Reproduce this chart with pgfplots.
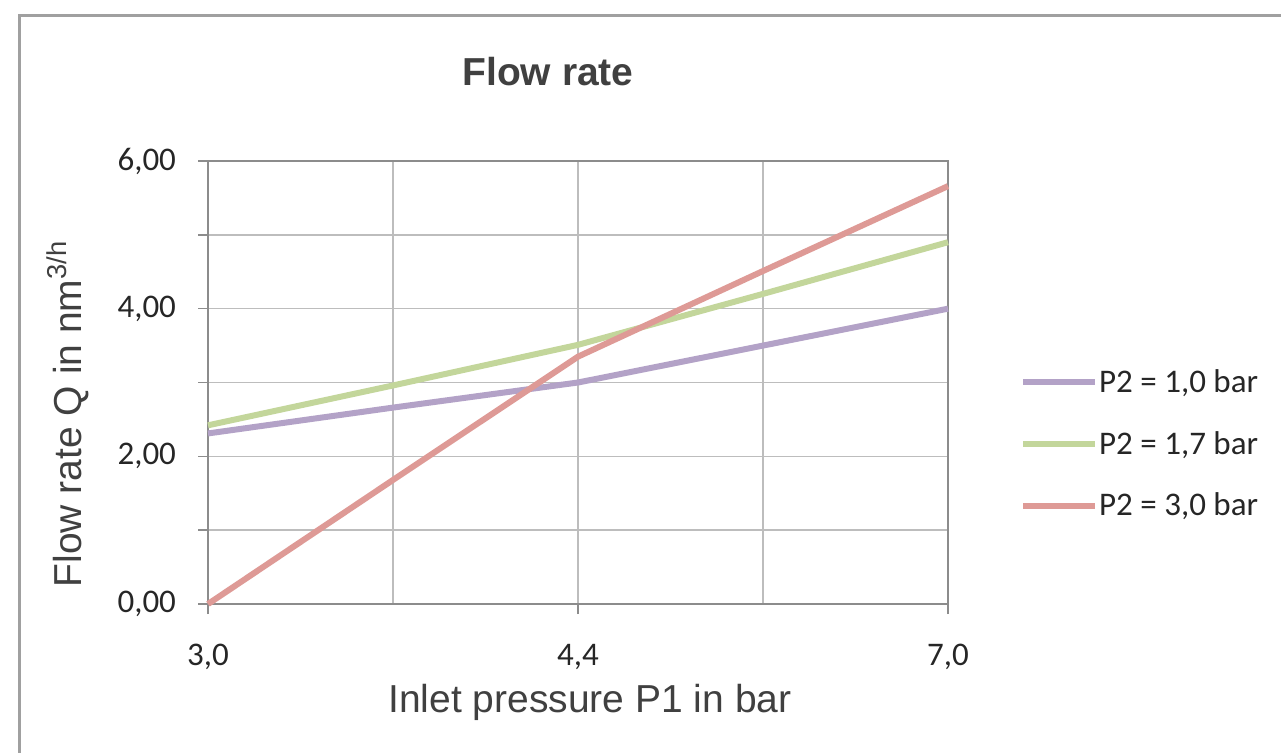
\documentclass[border=0pt]{standalone}
\usepackage{pgfplots}
\pgfplotsset{compat=1.18}
\usepackage{fontspec}
\setmainfont{Liberation Sans}
\newfontfamily\calib{Carlito}
\definecolor{cpurple}{HTML}{B3A2C7}
\definecolor{cgreen}{HTML}{C3D69B}
\definecolor{cred}{HTML}{DE9A96}
\definecolor{gridc}{HTML}{BDBDBD}
\definecolor{axc}{HTML}{8C8C8C}
\definecolor{txt}{HTML}{404040}
\definecolor{frame}{HTML}{A0A0A0}
\begin{document}
\begin{tikzpicture}
\useasboundingbox (0,0) rectangle (640.5pt,-376.5pt);
\draw[color=frame, line width=1.5pt] (9.5pt,-380pt) -- (9.5pt,-7.75pt) -- (650pt,-7.75pt);
\node[font=\bfseries\fontsize{19.5}{22}\selectfont, text=txt] at (274pt,-36pt) {Flow rate};
\node[font=\fontsize{19.5}{22}\selectfont, text=txt, rotate=90] at (34pt,-207pt) {Flow rate Q in nm\textsuperscript{3/h}};
\node[font=\fontsize{19.5}{22}\selectfont, text=txt, anchor=base] at (295pt,-356pt) {Inlet pressure P1 in bar};
\begin{axis}[
  at={(104pt,-302pt)}, anchor=south west,
  scale only axis, width=370pt, height=221.5pt,
  xmin=0, xmax=4, ymin=0, ymax=6,
  xtick={0,2,4}, xticklabels={{3,0},{4,4},{7,0}},
  minor xtick={1,3},
  ytick={0,2,4,6}, yticklabels={{0,00},{2,00},{4,00},{6,00}},
  minor ytick={1,3,5},
  grid=both,
  major grid style={color=gridc, line width=0.75pt},
  minor grid style={color=gridc, line width=0.75pt},
  axis line style={color=axc, line width=0.75pt},
  tick align=outside, tick pos=left,
  major tick length=5pt, minor tick length=5pt,
  tick style={color=axc, line width=0.75pt},
  minor x tick style={draw=none},
  ticklabel style={font=\calib\fontsize{16.5}{19}\selectfont, text=black!85},
  yticklabel style={xshift=-7.5pt},
  xticklabel style={yshift=-11.5pt},
  clip=false,
  legend style={at={(1.097,0.361)}, anchor=west, draw=none, fill=none,
    font=\calib\fontsize{16.5}{19}\selectfont, row sep=17pt, inner sep=0pt,
    nodes={inner sep=0.5pt, text=black!85}},
  legend cell align=left,
  legend image code/.code={\draw[#1, line width=3pt] (0pt,0pt) -- (36pt,0pt);},
]
\addplot[color=cpurple, line width=3pt] coordinates {(0,2.31) (1,2.66) (2,3.00) (3,3.50) (4,4.00)};
\addlegendentry{P2 = 1,0 bar}
\addplot[color=cgreen, line width=3pt] coordinates {(0,2.42) (1,2.96) (2,3.51) (3,4.20) (4,4.90)};
\addlegendentry{P2 = 1,7 bar}
\addplot[color=cred, line width=3pt] coordinates {(0,0.00) (1,1.68) (2,3.35) (3,4.51) (4,5.66)};
\addlegendentry{P2 = 3,0 bar}
\end{axis}
\end{tikzpicture}
\end{document}
